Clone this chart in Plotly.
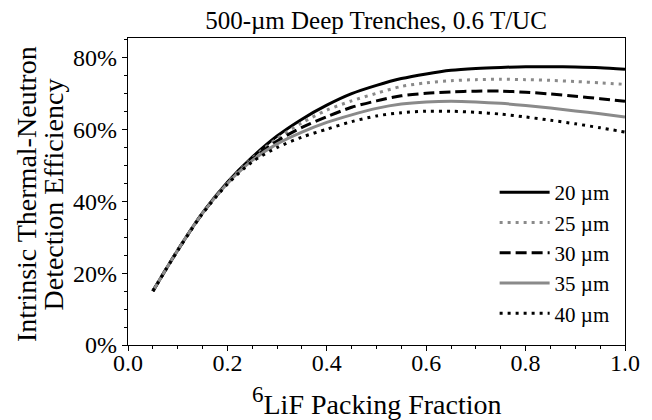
import plotly.graph_objects as go

# 6LiF packing fraction (x) and intrinsic detection efficiency (%) per trench width
packing_fraction = [0.05, 0.10, 0.15, 0.20, 0.25, 0.30, 0.35, 0.40, 0.45, 0.50,
                    0.55, 0.60, 0.65, 0.70, 0.75, 0.80, 0.85, 0.90, 0.95, 1.00]

eff_20um = [15.0, 26.4, 36.8, 45.3, 52.3, 58.2, 62.9, 66.8, 70.0, 72.3,
            74.2, 75.5, 76.5, 77.0, 77.3, 77.5, 77.5, 77.4, 77.2, 76.8]
eff_25um = [15.0, 26.4, 36.8, 45.2, 52.0, 57.5, 61.9, 65.4, 68.0, 70.1,
            72.0, 73.0, 73.6, 73.9, 74.0, 73.9, 73.7, 73.4, 73.0, 72.6]
eff_30um = [15.0, 26.4, 36.7, 45.1, 51.7, 56.8, 60.6, 63.6, 66.2, 68.0,
            69.4, 70.1, 70.5, 70.7, 70.7, 70.4, 69.9, 69.3, 68.6, 67.9]
eff_35um = [15.0, 26.4, 36.7, 45.0, 51.4, 56.0, 59.3, 62.0, 64.1, 65.9,
            67.1, 67.7, 67.9, 67.7, 67.3, 66.7, 66.0, 65.2, 64.4, 63.5]
eff_40um = [15.0, 26.3, 36.6, 44.8, 51.0, 55.0, 57.9, 60.1, 62.2, 63.8,
            64.7, 65.1, 65.1, 64.8, 64.3, 63.5, 62.6, 61.6, 60.5, 59.3]

series_labels = ["20 µm", "25 µm", "30 µm", "35 µm", "40 µm"]
series_values = [eff_20um, eff_25um, eff_30um, eff_35um, eff_40um]

FONT = "Liberation Serif"
line_styles = [
    dict(color="#000000", width=3, dash="solid"),
    dict(color="#8a8a8a", width=3, dash="3px,5px"),
    dict(color="#000000", width=3, dash="11px,5px"),
    dict(color="#8a8a8a", width=3, dash="solid"),
    dict(color="#000000", width=3, dash="3px,5px"),
]

fig = go.Figure()
for i, (label, vals) in enumerate(zip(series_labels, series_values)):
    fig.add_trace(go.Scatter(
        x=packing_fraction, y=vals, mode="lines", name=label,
        line=dict(shape="spline", smoothing=0.8, **line_styles[i]),
    ))

axis_common = dict(
    showline=True, linecolor="black", linewidth=1.2, mirror=True,
    ticks="outside", ticklen=5, tickwidth=1, tickcolor="black",
    showgrid=False, zeroline=False,
    tickfont=dict(family=FONT, size=24, color="black"),
)

fig.update_xaxes(range=[0, 1], dtick=0.2, tickformat=".1f", ticklabelstandoff=-9,
                 minor=dict(dtick=0.05, ticks="outside", ticklen=3, tickcolor="black"),
                 **axis_common)
fig.update_yaxes(range=[0, 85.5], dtick=20, ticksuffix="%",
                 minor=dict(dtick=5, ticks="outside", ticklen=3, tickcolor="black"),
                 **axis_common)

W, H = 652, 420
ml, mr, mt, mb = 128, 17, 38, 75
plot_h = H - mt - mb
plot_w = W - ml - mr

def py(pix_y):
    return (H - mb - pix_y) / plot_h

def px(pix_x):
    return (pix_x - ml) / plot_w

annotations = [
    dict(text="<sup><span style='font-size:23px'>6</span></sup>LiF Packing Fraction",
         xref="paper", yref="paper",
         x=0.5, y=py(401), xanchor="center", yanchor="middle", showarrow=False,
         font=dict(family=FONT, size=28, color="black")),
    dict(text="Intrinsic Thermal-Neutron", xref="paper", yref="paper",
         x=px(24), y=py(194), xanchor="center", yanchor="middle", textangle=-90,
         showarrow=False, font=dict(family=FONT, size=28, color="black")),
    dict(text="Detection Efficiency", xref="paper", yref="paper",
         x=px(52), y=py(194), xanchor="center", yanchor="middle", textangle=-90,
         showarrow=False, font=dict(family=FONT, size=28, color="black")),
]

fig.update_layout(
    width=W, height=H,
    margin=dict(l=ml, r=mr, t=mt, b=mb),
    paper_bgcolor="white", plot_bgcolor="white",
    title=dict(text="500-µm Deep Trenches, 0.6 T/UC", x=376 / W, xanchor="center",
               xref="container", y=1 - 20 / H, yanchor="middle", yref="container",
               font=dict(family=FONT, size=25, color="black")),
    legend=dict(x=px(502), xanchor="left", y=py(172), yanchor="top",
                bgcolor="rgba(0,0,0,0)", borderwidth=0, itemwidth=50,
                font=dict(family=FONT, size=21, color="black"),
                tracegroupgap=0),
    annotations=annotations,
)

fig.write_html("out.html")
